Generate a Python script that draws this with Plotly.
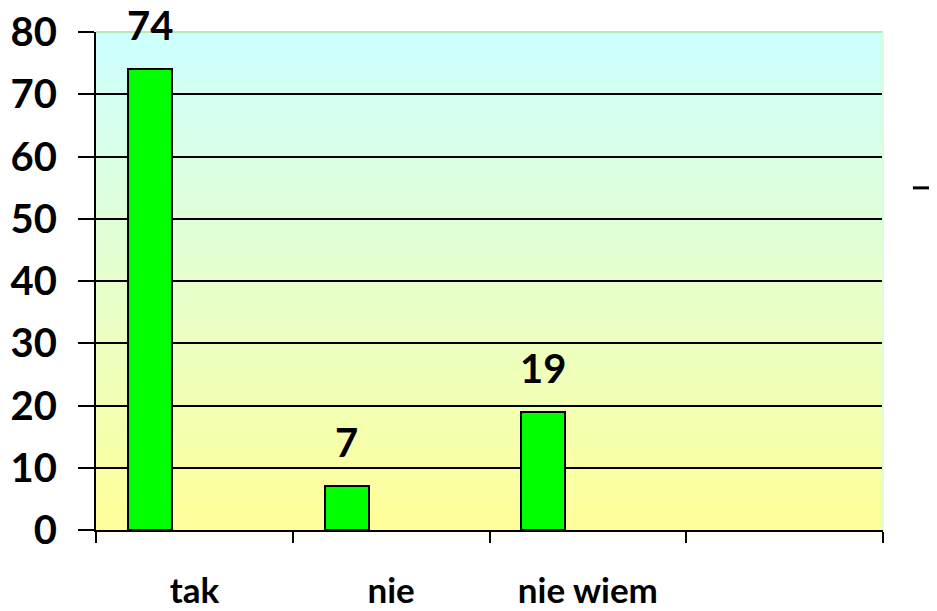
import base64, struct, zlib
import plotly.graph_objects as go

# ---- data ----
categories = ["tak", "nie", "nie wiem", " "]
values = [74, 7, 19, None]
y_ticks = [0, 10, 20, 30, 40, 50, 60, 70, 80]

# ---- style ----
BAR_W = 0.224
BAR_OFF = -0.338
FONT = "Lato, 'Open Sans', Arial, sans-serif"


def gradient_png(h, top, bottom):
    raw = b""
    for i in range(h):
        t = i / (h - 1)
        c = [round(top[k] + (bottom[k] - top[k]) * t) for k in range(3)]
        raw += b"\x00" + bytes(c)

    def chunk(tag, data):
        return (struct.pack(">I", len(data)) + tag + data +
                struct.pack(">I", zlib.crc32(tag + data) & 0xffffffff))

    png = b"\x89PNG\r\n\x1a\n"
    png += chunk(b"IHDR", struct.pack(">IIBBBBB", 1, h, 8, 2, 0, 0, 0))
    png += chunk(b"IDAT", zlib.compress(raw))
    png += chunk(b"IEND", b"")
    return "data:image/png;base64," + base64.b64encode(png).decode()


fig = go.Figure()
fig.add_trace(go.Bar(
    x=categories, y=values,
    width=BAR_W, offset=BAR_OFF,
    marker=dict(color="#00FF00", line=dict(color="black", width=2)),
    showlegend=False, hoverinfo="skip",
))

# data labels above bars
for i, v in enumerate(values):
    if v is None:
        continue
    fig.add_annotation(
        x=i + BAR_OFF + BAR_W / 2, y=v, text=f"<b>{v}</b>",
        showarrow=False, yanchor="bottom", yshift=18,
        font=dict(family=FONT, size=40, color="black"),
    )

fig.add_layout_image(dict(
    source=gradient_png(256, (204, 255, 255), (255, 255, 153)),
    xref="paper", yref="paper", x=0, y=1, sizex=1, sizey=1,
    sizing="stretch", xanchor="left", yanchor="top", layer="below",
))

# light top/right border of plot area
fig.add_shape(type="line", xref="paper", yref="paper", x0=0, x1=1, y0=1, y1=1,
              line=dict(color="#B8E8B8", width=2), layer="above")
fig.add_shape(type="line", xref="paper", yref="paper", x0=1, x1=1, y0=0, y1=1,
              line=dict(color="#D8FFD8", width=2), layer="above")
# clipped legend fragment
fig.add_shape(type="line", xref="paper", yref="paper", x0=1.038, x1=1.075,
              y0=0.687, y1=0.687, line=dict(color="black", width=3))

fig.update_layout(
    width=929, height=603, autosize=False,
    margin=dict(l=88, r=54, t=24, b=81, pad=0),
    paper_bgcolor="white", plot_bgcolor="rgba(0,0,0,0)",
    font=dict(family=FONT, color="black"),
    bargap=0,
    xaxis=dict(
        type="category", categoryorder="array", categoryarray=categories,
        range=[-0.5, 3.5], tickson="boundaries", automargin=False,
        ticks="outside", ticklen=11, tickwidth=2, tickcolor="black",
        showline=True, linecolor="black", linewidth=2,
        showgrid=False, zeroline=False,
        tickfont=dict(family=FONT, size=35, color="black"),
        ticklabelstandoff=29, ticklabeloverflow="allow",
        tickvals=categories, ticktext=[f"<b>{c}</b>" for c in categories],
    ),
    yaxis=dict(
        range=[0, 80], tickvals=y_ticks, automargin=False,
        ticktext=[f"<b>{t}</b>" for t in y_ticks],
        ticks="outside", ticklen=16, tickwidth=2, tickcolor="black",
        showline=True, linecolor="black", linewidth=2,
        showgrid=True, gridcolor="black", gridwidth=2,
        zeroline=False,
        tickfont=dict(family=FONT, size=40, color="black"),
        ticklabelstandoff=13, ticklabeloverflow="allow",
    ),
)

fig.write_html("out.html")
